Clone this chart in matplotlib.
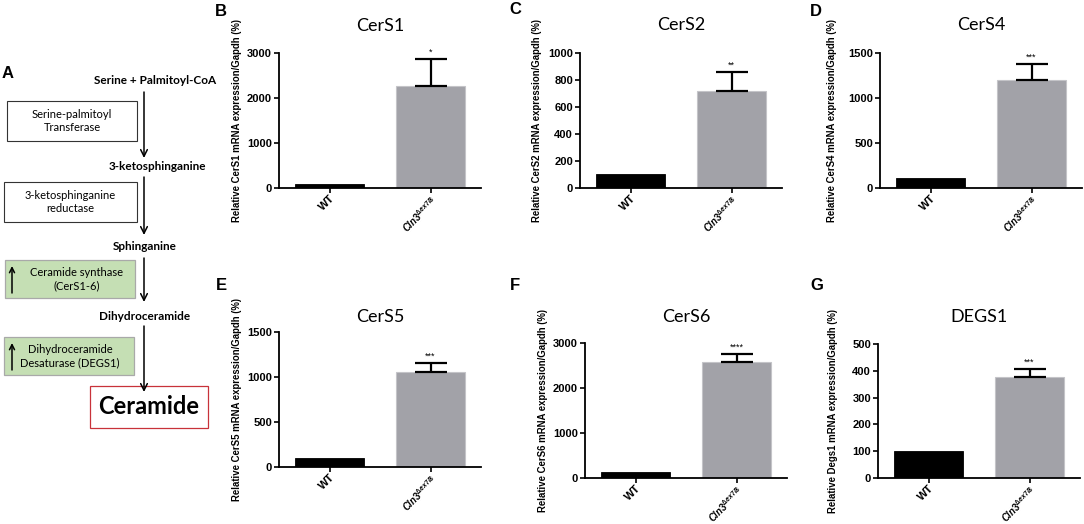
import matplotlib
matplotlib.use("Agg")
import matplotlib.pyplot as plt
from matplotlib.patches import Rectangle

W, H = 1084, 524

genes = ["CerS1", "CerS2", "CerS4", "CerS5", "CerS6", "DEGS1"]
ylabel_names = ["CerS1", "CerS2", "CerS4", "CerS5", "CerS6", "Degs1"]
panel_letters = ["B", "C", "D", "E", "F", "G"]
groups = ["WT", r"$Cln3^{\Delta ex7/8}$"]
wt_mean = [100, 106, 110, 103, 124, 99]
ko_mean = [2260, 715, 1200, 1056, 2569, 377]
ko_sem = [610, 145, 175, 103, 194, 30]
stars = ["*", "**", "***", "***", "****", "***"]
yticks = [
    [0, 1000, 2000, 3000],
    [0, 200, 400, 600, 800, 1000],
    [0, 500, 1000, 1500],
    [0, 500, 1000, 1500],
    [0, 1000, 2000, 3000],
    [0, 100, 200, 300, 400, 500],
]

plt.rcParams["mathtext.fontset"] = "custom"
plt.rcParams["mathtext.it"] = "Liberation Sans:italic:bold"
plt.rcParams["mathtext.rm"] = "Liberation Sans:bold"

fig = plt.figure(figsize=(W / 100, H / 100), dpi=100)

# pixel boxes: x0, y0(top), x1, y1(bottom)
boxes = [
    (279, 53, 481, 188),
    (580, 53, 782, 188),
    (880, 53, 1082, 188),
    (279, 332, 481, 467),
    (585, 343, 787, 478),
    (878, 344, 1080, 478),
]
title_y = [26, 25, 25, 317, 317, 317]
letter_pos = [(221, 11), (515, 10), (816, 11), (221, 285), (515, 285), (817, 285)]
ylabel_x = [242, 542, 837, 242, 548, 838]

def frect(x0, y0, x1, y1):
    return [x0 / W, 1 - y1 / H, (x1 - x0) / W, (y1 - y0) / H]

for i in range(6):
    x0, y0, x1, y1 = boxes[i]
    ax = fig.add_axes(frect(x0, y0, x1, y1))
    ax.bar([0], [wt_mean[i]], width=0.68, color="black", edgecolor="black", linewidth=0.6)
    ax.bar([1], [ko_mean[i]], width=0.68, color="#a2a2a8", edgecolor="#c4c4c8", linewidth=0.8)
    ax.errorbar([1], [ko_mean[i]], yerr=[[0], [ko_sem[i]]], fmt="none", ecolor="black",
                elinewidth=1.6, capsize=11.5, capthick=1.6)
    ax.annotate(stars[i], xy=(1, ko_mean[i] + ko_sem[i]), xytext=(0, 1.5),
                textcoords="offset points", ha="center", va="bottom",
                fontsize=6.5, family="Liberation Sans")
    ax.set_xlim(-0.5, 1.5)
    ax.set_ylim(0, yticks[i][-1])
    ax.set_yticks(yticks[i])
    ax.set_yticklabels([str(t) for t in yticks[i]], fontsize=8, fontweight="bold",
                       family="Liberation Sans")
    ax.set_xticks([0, 1])
    labs = ax.set_xticklabels(groups, rotation=45, ha="right",
                              rotation_mode="anchor", fontweight="bold",
                              family="Liberation Sans")
    labs[0].set_fontsize(8)
    labs[1].set_fontsize(6.9)
    for s in ["top", "right"]:
        ax.spines[s].set_visible(False)
    for s in ["left", "bottom"]:
        ax.spines[s].set_linewidth(1.3)
    ax.tick_params(axis="y", width=1.2, length=3.5, pad=1.5)
    ax.tick_params(axis="x", width=1.2, length=3.5, pad=0.5)
    ax.set_ylabel("Relative %s mRNA expression/Gapdh (%%)" % ylabel_names[i],
                  fontsize=6.9, fontweight="bold", family="Liberation Sans")
    ax.yaxis.set_label_coords((ylabel_x[i] - x0) / (x1 - x0), 0.5)
    ax.text(0.5, 1 + (y0 - title_y[i]) / (y1 - y0), genes[i], transform=ax.transAxes,
            ha="center", va="center", fontsize=13, family="Lato")
    lx, ly = letter_pos[i]
    fig.text(lx / W, 1 - ly / H, panel_letters[i], ha="center", va="center",
             fontsize=12, fontweight="bold", family="Liberation Sans")

# Panel A: pathway diagram in pixel coordinates
axa = fig.add_axes([0, 0, 230 / W, 1])
axa.set_xlim(0, 230)
axa.set_ylim(H, 0)
axa.axis("off")

axa.text(8, 73, "A", ha="center", va="center", fontsize=12, fontweight="bold",
         family="Liberation Sans")

bold_steps = [("Serine + Palmitoyl-CoA", 155, 81), ("3-ketosphinganine", 157, 167),
              ("Sphinganine", 145, 247), ("Dihydroceramide", 145, 316)]
for t, x, y in bold_steps:
    axa.text(x, y, t, ha="center", va="center", fontsize=8.5, fontweight="bold",
             family="Lato")

arrows = [(92, 158), (177, 235), (258, 302), (326, 392)]
for a, b in arrows:
    axa.annotate("", xy=(144, b), xytext=(144, a),
                 arrowprops=dict(arrowstyle="->", lw=1.1, color="black", mutation_scale=12,
                                 shrinkA=0, shrinkB=0))

# white enzyme boxes
axa.add_patch(Rectangle((7, 101), 130, 40, facecolor="white", edgecolor="#333333", lw=0.8))
axa.text(72, 121, "Serine-palmitoyl\nTransferase", ha="center", va="center",
         fontsize=8, family="Lato", linespacing=1.25)
axa.add_patch(Rectangle((4, 182), 133, 40, facecolor="white", edgecolor="#333333", lw=0.8))
axa.text(70, 202, "3-ketosphinganine\nreductase", ha="center", va="center",
         fontsize=8, family="Lato", linespacing=1.25)

# green boxes
axa.add_patch(Rectangle((5, 260), 130, 38, facecolor="#c5dfb4", edgecolor="#a9a9a9", lw=0.9))
axa.text(77, 279, "Ceramide synthase\n(CerS1-6)", ha="center", va="center",
         fontsize=8, family="Lato", linespacing=1.2)
axa.annotate("", xy=(12, 266), xytext=(12, 293),
             arrowprops=dict(arrowstyle="->", lw=1.1, color="black", mutation_scale=9,
                             shrinkA=0, shrinkB=0))
axa.add_patch(Rectangle((4, 337), 130, 38, facecolor="#c5dfb4", edgecolor="#a9a9a9", lw=0.9))
axa.text(70, 356, "Dihydroceramide\nDesaturase (DEGS1)", ha="center", va="center",
         fontsize=8, family="Lato", linespacing=1.2)
axa.annotate("", xy=(12, 343), xytext=(12, 370),
             arrowprops=dict(arrowstyle="->", lw=1.1, color="black", mutation_scale=9,
                             shrinkA=0, shrinkB=0))

# red product box
axa.add_patch(Rectangle((90, 386), 118, 42, facecolor="white", edgecolor="#c8323a", lw=0.9))
axa.text(149, 407, "Ceramide", ha="center", va="center", fontsize=17,
         fontweight="bold", family="Lato")

fig.savefig("out.png", dpi=100)
